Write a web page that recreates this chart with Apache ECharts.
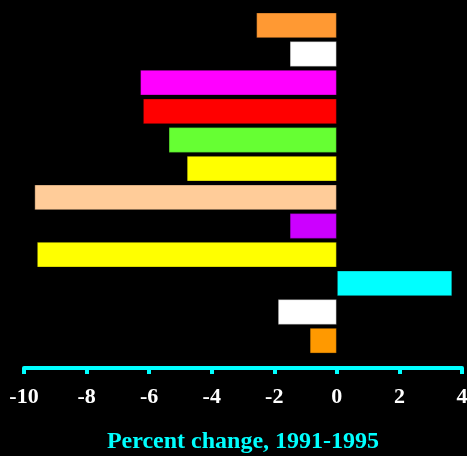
<!DOCTYPE html>
<html>
<head>
<meta charset="utf-8">
<script src="https://cdn.jsdelivr.net/npm/echarts@6/dist/echarts.min.js"></script>
<style>
  html, body { margin: 0; padding: 0; background: #000; }
  #chart { width: 467px; height: 456px; }
</style>
</head>
<body>
<div id="chart"></div>
<script>
// Groups, top to bottom
const categories = ['G1', 'G2', 'G3', 'G4', 'G5', 'G6', 'G7', 'G8', 'G9', 'G10', 'G11', 'G12'];
// Percent change, 1991-1995
const values = [-2.58, -1.51, -6.29, -6.2, -5.38, -4.8, -9.67, -1.51, -9.59, 3.69, -1.89, -0.87];
const barColors = ['#FF9933', '#FFFFFF', '#FF00FF', '#FF0000', '#66FF33', '#FFFF00',
                   '#FFCC99', '#CC00FF', '#FFFF00', '#00FFFF', '#FFFFFF', '#FF9900'];
const tickLabels = ['-10', '-8', '-6', '-4', '-2', '0', '2', '4'];
const xMin = -10, xMax = 4, xStep = 2;

const chart = echarts.init(document.getElementById('chart'));
chart.setOption({
  backgroundColor: '#000000',
  animation: false,
  grid: { left: 24, right: 5, top: 11, bottom: 101, containLabel: false, outerBoundsMode: 'none' },
  xAxis: {
    type: 'value',
    min: xMin, max: xMax, interval: xStep,
    offset: 13,
    axisLine: { show: true, onZero: false, lineStyle: { color: '#00FFFF', width: 4 } },
    axisTick: { show: true, length: 6, lineStyle: { color: '#00FFFF', width: 4 } },
    splitLine: { show: false },
    axisLabel: {
      margin: 18,
      color: '#FFFFFF',
      fontFamily: 'Liberation Serif',
      fontWeight: 'bold',
      fontSize: 22,
      formatter: (v) => tickLabels[Math.round((v - xMin) / xStep)]
    },
    name: 'Percent change, 1991-1995',
    nameLocation: 'middle',
    nameGap: 62,
    nameTextStyle: {
      color: '#00FFFF',
      fontFamily: 'Liberation Serif',
      fontWeight: 'bold',
      fontSize: 24
    }
  },
  yAxis: {
    type: 'category',
    data: categories,
    inverse: true,
    show: false
  },
  series: [{
    type: 'bar',
    barWidth: '90%',
    data: values.map((v, i) => ({
      value: v,
      itemStyle: { color: barColors[i], borderColor: 'rgba(0,0,0,0.35)', borderWidth: 1 }
    }))
  }]
});
</script>
</body>
</html>
